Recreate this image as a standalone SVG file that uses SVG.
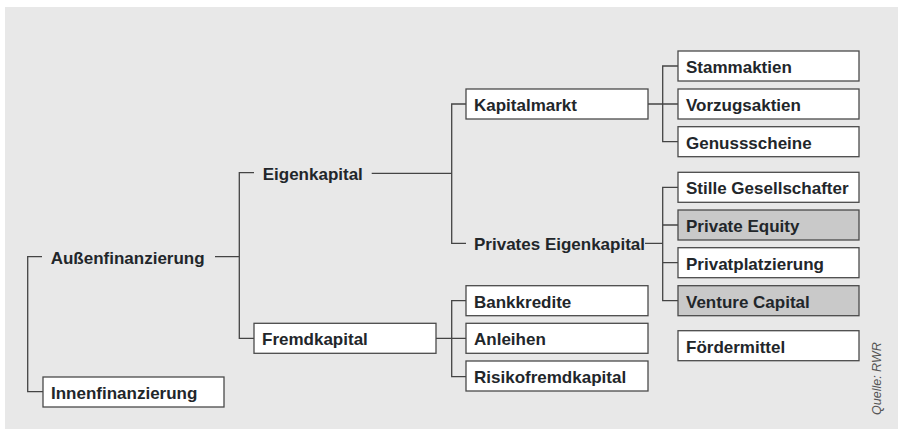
<svg xmlns="http://www.w3.org/2000/svg" width="898" height="429" viewBox="0 0 898 429">
<style>
.bx{fill:#ffffff;stroke:#4a4a4a;stroke-width:1.3}
.gr{fill:#c9c9c9;stroke:#4a4a4a;stroke-width:1.3}
.t{font-family:"Liberation Sans",Arial,sans-serif;font-weight:bold;font-size:17px;fill:#22262a}
.ln{fill:none;stroke:#444;stroke-width:1.3}
.src{font-family:"Liberation Sans",Arial,sans-serif;font-style:italic;font-size:12.5px;fill:#555}
</style>
<rect x="5" y="7" width="893" height="422" fill="#e8e8e8"/>
<g id="connectors">
<path class="ln" d="M42 256.7H27.7V391.7H43"/>
<path class="ln" d="M215 256.7H239.3M254 172.7H239.3V338.3H254"/>
<path class="ln" d="M371.7 173.3H451.7M466 104H451.7V243.3H466"/>
<path class="ln" d="M436 338.3H466M466 300.7H451.7V376.7H466"/>
<path class="ln" d="M648 104H678M678 66H662.7V141.7H678"/>
<path class="ln" d="M645 243.3H662.7M678 187.3H662.7V300.7H678M662.7 225H678M662.7 262.7H678"/>
</g>
<g id="aussenfinanzierung"><text class="t" x="50.7" y="263.7">Außenfinanzierung</text></g>
<g id="innenfinanzierung"><rect class="bx" x="43" y="377" width="181" height="30"/><text class="t" x="51" y="399">Innenfinanzierung</text></g>
<g id="eigenkapital"><text class="t" x="262.7" y="180.3">Eigenkapital</text></g>
<g id="fremdkapital"><rect class="bx" x="254" y="323.3" width="182" height="30"/><text class="t" x="262" y="345.3">Fremdkapital</text></g>
<g id="kapitalmarkt"><rect class="bx" x="466" y="89" width="182" height="30"/><text class="t" x="474" y="111">Kapitalmarkt</text></g>
<g id="privates-eigenkapital"><text class="t" x="474" y="250.3">Privates Eigenkapital</text></g>
<g id="bankkredite"><rect class="bx" x="466" y="285.7" width="182" height="30"/><text class="t" x="474" y="307.7">Bankkredite</text></g>
<g id="anleihen"><rect class="bx" x="466" y="323.3" width="182" height="30"/><text class="t" x="474" y="345.3">Anleihen</text></g>
<g id="risikofremdkapital"><rect class="bx" x="466" y="361" width="182" height="30"/><text class="t" x="474" y="383">Risikofremdkapital</text></g>
<g id="stammaktien"><rect class="bx" x="678" y="51" width="181" height="30"/><text class="t" x="686" y="73">Stammaktien</text></g>
<g id="vorzugsaktien"><rect class="bx" x="678" y="89" width="181" height="30"/><text class="t" x="686" y="111">Vorzugsaktien</text></g>
<g id="genussscheine"><rect class="bx" x="678" y="126.7" width="181" height="30"/><text class="t" x="686" y="148.7">Genussscheine</text></g>
<g id="stille-gesellschafter"><rect class="bx" x="678" y="172.3" width="181" height="30"/><text class="t" x="686" y="194.3">Stille Gesellschafter</text></g>
<g id="private-equity"><rect class="gr" x="678" y="210" width="181" height="30"/><text class="t" x="686" y="232">Private Equity</text></g>
<g id="privatplatzierung"><rect class="bx" x="678" y="247.7" width="181" height="30"/><text class="t" x="686" y="269.7">Privatplatzierung</text></g>
<g id="venture-capital"><rect class="gr" x="678" y="285.7" width="181" height="30"/><text class="t" x="686" y="307.7">Venture Capital</text></g>
<g id="foerdermittel"><rect class="bx" x="678" y="330.7" width="181" height="30"/><text class="t" x="686" y="352.7">Fördermittel</text></g>
<text class="src" transform="translate(881 415) rotate(-90)">Quelle: RWR</text>
</svg>
